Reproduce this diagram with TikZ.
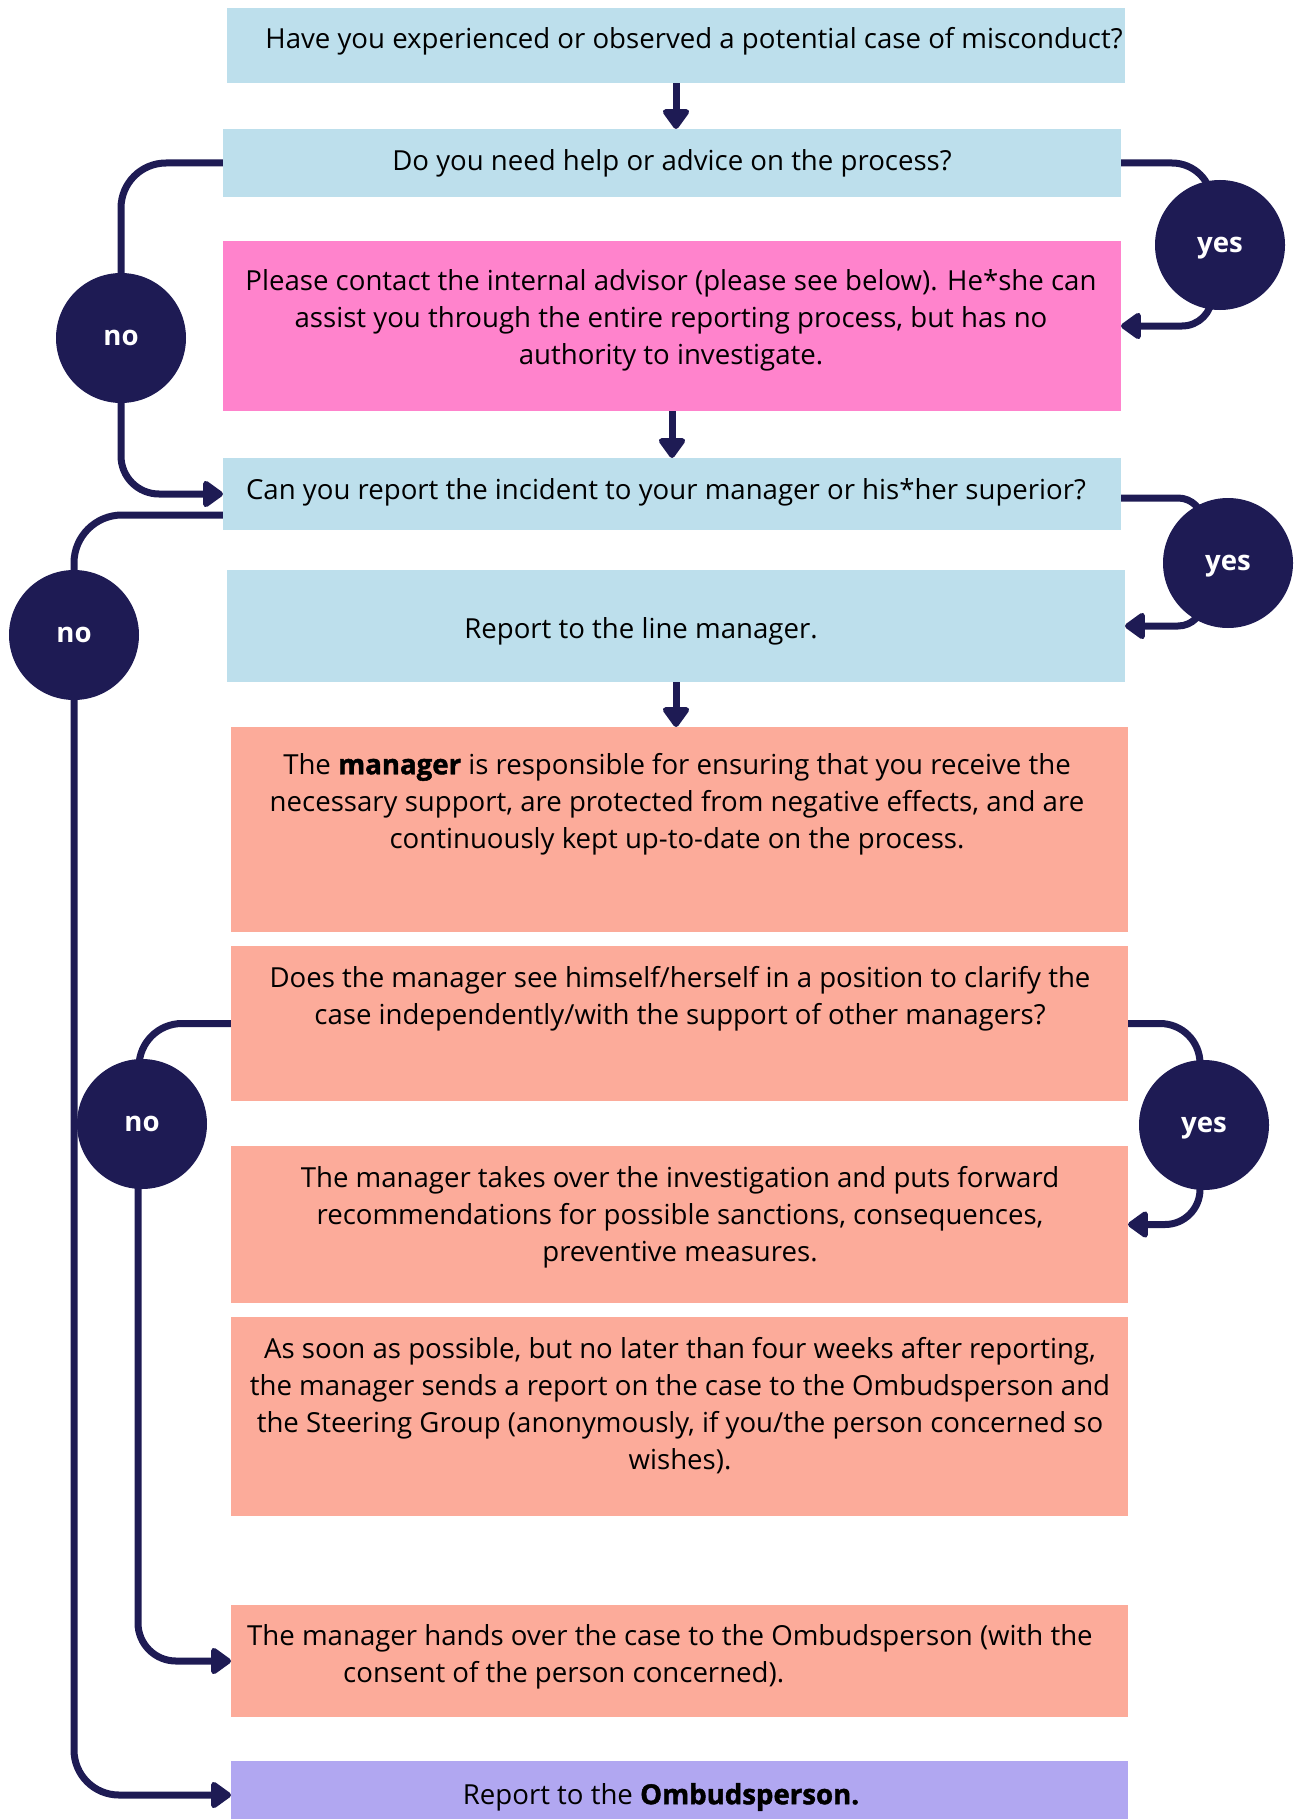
\documentclass[tikz,border=0pt]{standalone}
\usepackage{fontspec}
\setmainfont{Open Sans}
\newfontfamily\xbold{Open Sans}[BoldFeatures={FakeBold=1.6}]
\usetikzlibrary{arrows.meta}
\definecolor{lb}{HTML}{BDDFEC}
\definecolor{pk}{HTML}{FF83CC}
\definecolor{sm}{HTML}{FCAB9A}
\definecolor{pu}{HTML}{B1A7F1}
\definecolor{nv}{HTML}{1E1B54}
\newcommand{\xb}[1]{{\xbold\bfseries #1}}
\pgfdeclarelayer{bg}
\pgfsetlayers{bg,main}
\begin{document}
\begin{tikzpicture}[x=1pt,y=-1pt,
  box/.style={draw=none, inner sep=0pt, outer sep=0pt, anchor=north west},
  txt/.style={font=\fontsize{27.6}{37}\selectfont, align=center, inner sep=0pt},
  circ/.style={circle, fill=nv, minimum size=130pt, inner sep=0pt, text=white, text height=15pt, text depth=0pt, font=\fontsize{27.6}{32}\selectfont\bfseries},
  conn/.style={draw=nv, line width=7pt},
  arr/.style={conn, -{Triangle[length=22pt,width=30pt,round]}},
]
\useasboundingbox (0,0) rectangle (1293,1819);
% boxes
\node[box, fill=lb, minimum width=898pt, minimum height=75pt] (b1) at (227,8) {};
\node[box, fill=lb, minimum width=898pt, minimum height=68pt] (b2) at (223,129) {};
\node[box, fill=pk, minimum width=898pt, minimum height=170pt] (b3) at (223,241) {};
\node[box, fill=lb, minimum width=898pt, minimum height=72pt] (b4) at (223,458) {};
\node[box, fill=lb, minimum width=898pt, minimum height=112pt] (b5) at (227,570) {};
\node[box, fill=sm, minimum width=897pt, minimum height=205pt] (b6) at (231,727) {};
\node[box, fill=sm, minimum width=897pt, minimum height=155pt] (b7) at (231,946) {};
\node[box, fill=sm, minimum width=897pt, minimum height=157pt] (b8) at (231,1146) {};
\node[box, fill=sm, minimum width=897pt, minimum height=199pt] (b9) at (231,1317) {};
\node[box, fill=sm, minimum width=897pt, minimum height=112pt] (b10) at (231,1605) {};
\node[box, fill=pu, minimum width=897pt, minimum height=68pt] (b11) at (231,1761) {};
% texts
\node[txt] (t1) at (694,41) {Have you experienced or observed a potential case of misconduct?};
\node[txt] (t2) at (672,163) {Do you need help or advice on the process?};
\node[txt] (t3) at (671,320) {Please contact the internal advisor (please see below). He*she can\\assist you through the entire reporting process, but has no\\authority to investigate.};
\node[txt] (t4) at (666,492) {Can you report the incident to your manager or his*her superior?};
\node[txt] (t5) at (641,631) {Report to the line manager.};
\node[txt] (t6) at (677,804) {The \xb{manager} is responsible for ensuring that you receive the\\necessary support, are protected from negative effects, and are\\continuously kept up-to-date on the process.};
\node[txt] (t7) at (680,999) {Does the manager see himself/herself in a position to clarify the\\case independently/with the support of other managers?};
\node[txt] (t8) at (680,1217) {The manager takes over the investigation and puts forward\\recommendations for possible sanctions, consequences,\\preventive measures.};
\node[txt] (t9) at (680,1406) {As soon as possible, but no later than four weeks after reporting,\\the manager sends a report on the case to the Ombudsperson and\\the Steering Group (anonymously, if you/the person concerned so\\wishes).};
\node[txt, align=left, anchor=west] (t10) at (247,1657) {The manager hands over the case to the Ombudsperson (with the\\\hspace*{96pt}consent of the person concerned).};
\node[txt] (t11) at (661,1797) {Report to the \xb{Ombudsperson.}};
% circles
\node[circ] (no1) at (121,338) {no};
\node[circ] (yes1) at (1220,245) {yes};
\node[circ] (yes2) at (1228,563) {yes};
\node[circ] (no2) at (74,635) {no};
\node[circ] (no3) at (142,1124) {no};
\node[circ] (yes3) at (1204,1125) {yes};
% connectors
\begin{pgfonlayer}{bg}
\draw[arr] (b1.south) -- (b1.south |- b2.north);
\draw[arr] (b3.south) -- (b3.south |- b4.north);
\draw[arr] (b5.south) -- (b5.south |- b6.north);
\draw[conn, rounded corners=45pt] (b2.west) -| (no1.center);
\draw[arr, rounded corners=38pt] (no1.center) |- (b4.west);
\draw[conn, rounded corners=40pt] (b2.east) -| ([xshift=-8pt]yes1.center);
\draw[arr, rounded corners=30pt] ([xshift=-8pt]yes1.center) |- (b3.east);
\draw[conn, rounded corners=25pt] ([yshift=-4pt]b4.east) -| ([xshift=-25pt]yes2.center);
\draw[arr, rounded corners=25pt] ([xshift=-25pt]yes2.center) |- (b5.east);
\draw[conn, rounded corners=48pt] ([yshift=15pt]b4.south west) -| (no2.center);
\draw[arr, rounded corners=45pt] (no2.center) |- (b11.west);
\draw[conn, rounded corners=43pt] (b7.west) -| ([xshift=-3pt]no3.center);
\draw[arr, rounded corners=38pt] ([xshift=-4pt]no3.center) |- (b10.west);
\draw[conn, rounded corners=40pt] (b7.east) -| ([xshift=-4pt]yes3.center);
\draw[arr, rounded corners=35pt] ([xshift=-4pt]yes3.center) |- (b8.east);
\end{pgfonlayer}
\end{tikzpicture}
\end{document}
